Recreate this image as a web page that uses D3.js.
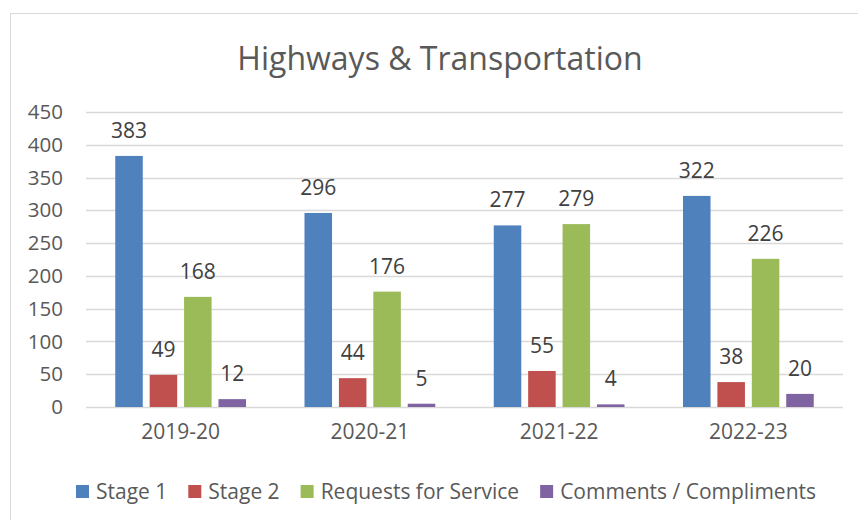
<!DOCTYPE html>
<html>
<head>
<meta charset="utf-8">
<script src="https://cdn.jsdelivr.net/npm/d3@7"></script>
<style>
  html, body { margin: 0; padding: 0; background: #fff; }
  svg { display: block; font-family: "Open Sans", sans-serif; }
</style>
</head>
<body>
<svg id="chart" width="858" height="520"></svg>
<script>
const title = "Highways & Transportation";
const categories = ["2019-20", "2020-21", "2021-22", "2022-23"];
const seriesNames = ["Stage 1", "Stage 2", "Requests for Service", "Comments / Compliments"];
const stage1 = [383, 296, 277, 322];
const stage2 = [49, 44, 55, 38];
const requests = [168, 176, 279, 226];
const comments = [12, 5, 4, 20];
const yTicks = [0, 50, 100, 150, 200, 250, 300, 350, 400, 450];
const colors = ["#4F81BD", "#C0504D", "#9BBB59", "#8064A2"];

const seriesValues = [stage1, stage2, requests, comments];
const textColor = "#595959";

const svg = d3.select("#chart");

// chart border (outer frame)
svg.append("rect")
  .attr("x", 10.5).attr("y", 13.5)
  .attr("width", 900).attr("height", 600)
  .attr("fill", "#fff").attr("stroke", "#d9d9d9").attr("stroke-width", 1);

const y = d3.scaleLinear().domain([0, 450]).range([407, 112]);
const x0 = d3.scaleBand().domain(categories).range([86, 843]).paddingInner(0).paddingOuter(0);
const x1 = d3.scaleBand().domain(seriesNames).range([0, x0.bandwidth()]).paddingInner(0.2).paddingOuter(0.85);
const color = d3.scaleOrdinal().domain(seriesNames).range(colors);

// gridlines
svg.append("g").selectAll("line").data(yTicks).join("line")
  .attr("x1", 86).attr("x2", 843)
  .attr("y1", d => Math.round(y(d)) + 0.5).attr("y2", d => Math.round(y(d)) + 0.5)
  .attr("stroke", "#d9d9d9").attr("stroke-width", 1.3);

// y axis labels
const yAxis = d3.axisLeft(y).tickValues(yTicks).tickSize(0).tickPadding(0);
const gy = svg.append("g").attr("transform", "translate(63,0)").call(yAxis);
gy.select(".domain").remove();
gy.selectAll("text").attr("fill", textColor).style("font-size", "20.5px").style("font-family", "'Open Sans', sans-serif");

// x axis labels
const xAxis = d3.axisBottom(x0).tickSize(0).tickPadding(0);
const gx = svg.append("g").attr("transform", "translate(0,424)").call(xAxis);
gx.select(".domain").remove();
gx.selectAll("text").attr("fill", textColor).style("font-size", "21px").style("font-family", "'Open Sans', sans-serif");

// data table
const rows = [];
categories.forEach((c, i) => {
  seriesNames.forEach((s, j) => rows.push({cat: c, series: s, value: seriesValues[j][i]}));
});

// bars
svg.append("g").selectAll("rect").data(rows).join("rect")
  .attr("x", d => x0(d.cat) + x1(d.series))
  .attr("y", d => y(d.value))
  .attr("width", x1.bandwidth())
  .attr("height", d => y(0) - y(d.value))
  .attr("fill", d => color(d.series));

// data labels
svg.append("g").selectAll("text").data(rows).join("text")
  .attr("x", d => x0(d.cat) + x1(d.series) + x1.bandwidth() / 2)
  .attr("y", d => y(d.value) - 18)
  .attr("text-anchor", "middle")
  .attr("fill", "#404040")
  .style("font-size", "21px")
  .text(d => d.value);

// title
svg.append("text")
  .attr("x", 440).attr("y", 70)
  .attr("text-anchor", "middle")
  .attr("fill", textColor)
  .style("font-size", "32px")
  .text(title);

// legend
const legend = svg.append("g");
const items = legend.selectAll("g").data(seriesNames).join("g");
items.append("rect").attr("width", 13).attr("height", 13).attr("y", -14).attr("fill", d => color(d));
items.append("text").attr("x", 20).attr("y", 0).attr("fill", textColor)
  .style("font-size", "21px").text(d => d);
let cx = 0;
const gap = 21;
items.each(function() {
  const w = 20 + d3.select(this).select("text").node().getComputedTextLength();
  d3.select(this).attr("transform", `translate(${cx},0)`);
  cx += w + gap;
});
const total = cx - gap;
legend.attr("transform", `translate(${446 - total / 2},499)`);
</script>
</body>
</html>
